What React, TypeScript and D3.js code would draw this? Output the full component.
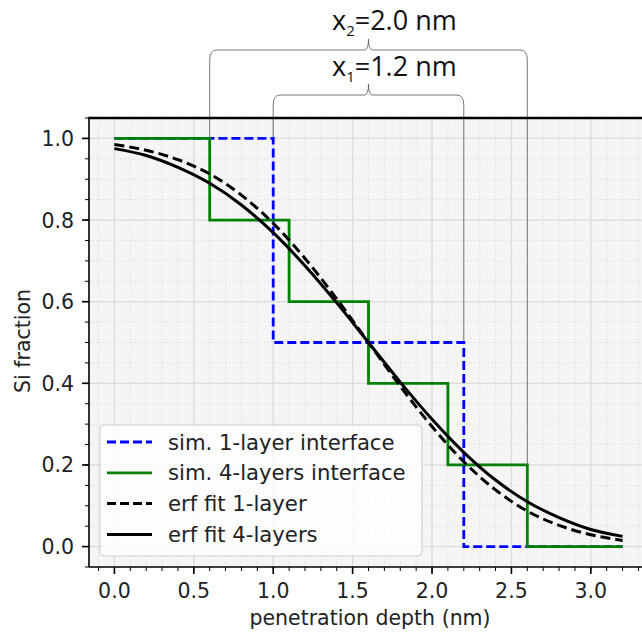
import * as d3 from 'd3';

// step profiles (x, Si fraction)
const oneLayerX = [0.0, 1.0, 1.0, 2.2, 2.2, 3.2];
const oneLayerY = [1.0, 1.0, 0.5, 0.5, 0.0, 0.0];
const fourLayerX = [0.0, 0.6, 0.6, 1.1, 1.1, 1.6, 1.6, 2.1, 2.1, 2.6, 2.6, 3.2];
const fourLayerY = [1.0, 1.0, 0.8, 0.8, 0.6, 0.6, 0.4, 0.4, 0.2, 0.2, 0.0, 0.0];

// erf fits
const fitX = [0.0, 0.2, 0.4, 0.6, 0.8, 1.0, 1.2, 1.4, 1.6, 1.8, 2.0, 2.2, 2.4, 2.6, 2.8, 3.0, 3.2];
const fit1Y = [0.985, 0.971, 0.948, 0.913, 0.861, 0.792, 0.706, 0.607, 0.5, 0.393, 0.294, 0.208, 0.139, 0.087, 0.052, 0.029, 0.015];
const fit4Y = [0.975, 0.958, 0.929, 0.890, 0.837, 0.769, 0.688, 0.597, 0.5, 0.403, 0.312, 0.231, 0.163, 0.110, 0.071, 0.042, 0.025];

const xTicks = [0.0, 0.5, 1.0, 1.5, 2.0, 2.5, 3.0];
const yTicks = [0.0, 0.2, 0.4, 0.6, 0.8, 1.0];

const legendLabels = ['sim. 1-layer interface', 'sim. 4-layers interface', 'erf fit 1-layer', 'erf fit 4-layers'];

// brace annotations
const brackets = [
  { x0: 0.6, x1: 2.6, sub: '2', txt: '=2.0 nm', yb: 50, ty: 30, end0: 1.0, end1: 0.2 },
  { x0: 1.0, x1: 2.2, sub: '1', txt: '=1.2 nm', yb: 95, ty: 76, end0: 1.0, end1: 0.5 },
];

const W = 642, H = 632;
const left = 89, right = 648, top = 118, bottom = 567;

const App = () => {
  const x = d3.scaleLinear().domain([-0.16, 3.36]).range([left, right]);
  const y = d3.scaleLinear().domain([-0.05, 1.05]).range([bottom, top]);

  const xMinor = d3.range(-1, 34).map((i) => i / 10).filter((v) => v >= -0.16 && v <= 3.36);
  const yMinor = d3.range(-1, 22).map((i) => i * 0.05).filter((v) => v >= -0.05 && v <= 1.05);

  const pts = (xs: number[], ys: number[]) => xs.map((v, i) => [v, ys[i]] as [number, number]);
  const stepLine = d3.line<[number, number]>().x((d) => x(d[0])).y((d) => y(d[1]));
  const smooth = d3.line<[number, number]>().x((d) => x(d[0])).y((d) => y(d[1])).curve(d3.curveMonotoneX);

  const font = 'DejaVu Sans, sans-serif';

  const bracePath = (xa: number, xb: number, yb: number) => {
    const xm = (xa + xb) / 2;
    const r = 7;
    return `M${xa},${yb + 10} Q${xa},${yb} ${xa + r},${yb} L${xm - 4},${yb} Q${xm},${yb} ${xm},${yb - 11} Q${xm},${yb} ${xm + 4},${yb} L${xb - r},${yb} Q${xb},${yb} ${xb},${yb + 10}`;
  };

  const legendRows = [
    { color: '#0000ff', dash: '9,4' },
    { color: '#008000', dash: '' },
    { color: '#000', dash: '9,4' },
    { color: '#000', dash: '' },
  ];

  return (
    <svg width={W} height={H} style={{ position: 'absolute', left: 0, top: 0, background: '#fff' }}>
      <defs>
        <clipPath id="plotclip">
          <rect x={left} y={top} width={right - left} height={bottom - top} />
        </clipPath>
      </defs>
      <rect x={left} y={top} width={right - left} height={bottom - top} fill="#f5f5f5" />
      {/* minor grid */}
      <g stroke="#dedede" strokeWidth={1} strokeDasharray="1.5,2">
        {xMinor.map((v) => <line key={'xm' + v} x1={x(v)} x2={x(v)} y1={top} y2={bottom} />)}
        {yMinor.map((v) => <line key={'ym' + v} x1={left} x2={right} y1={y(v)} y2={y(v)} />)}
      </g>
      {/* major grid */}
      <g stroke="#dcdcdc" strokeWidth={1.3}>
        {xTicks.map((v) => <line key={'xg' + v} x1={x(v)} x2={x(v)} y1={top} y2={bottom} />)}
        {yTicks.map((v) => <line key={'yg' + v} x1={left} x2={right} y1={y(v)} y2={y(v)} />)}
      </g>

      {/* bracket guide lines */}
      <g stroke="#555" strokeWidth={0.8} fill="none">
        {brackets.map((b) => (
          <g key={'bl' + b.sub}>
            <line x1={x(b.x0)} x2={x(b.x0)} y1={b.yb + 10} y2={y(b.end0)} />
            <line x1={x(b.x1)} x2={x(b.x1)} y1={b.yb + 10} y2={y(b.end1)} />
            <path d={bracePath(x(b.x0), x(b.x1), b.yb)} />
          </g>
        ))}
      </g>

      <g clipPath="url(#plotclip)" fill="none">
        <path d={stepLine(pts(oneLayerX, oneLayerY)) || ''} stroke="#0000ff" strokeWidth={2.8} strokeDasharray="9,4" />
        <path d={stepLine(pts(fourLayerX, fourLayerY)) || ''} stroke="#008000" strokeWidth={2.8} />
        <path d={smooth(pts(fitX, fit1Y)) || ''} stroke="#000" strokeWidth={3} strokeDasharray="10,5" />
        <path d={smooth(pts(fitX, fit4Y)) || ''} stroke="#000" strokeWidth={3} />
      </g>

      {/* spines */}
      <line x1={left} x2={left} y1={top} y2={bottom} stroke="#000" strokeWidth={1.6} />
      <line x1={left} x2={W} y1={bottom} y2={bottom} stroke="#000" strokeWidth={1.6} />
      <line x1={left - 0.8} x2={W} y1={top} y2={top} stroke="#000" strokeWidth={2.6} />

      {/* ticks */}
      <g stroke="#000">
        {xTicks.map((v) => <line key={'xt' + v} x1={x(v)} x2={x(v)} y1={bottom} y2={bottom + 7} strokeWidth={1.6} />)}
        {xMinor.map((v) => <line key={'xmt' + v} x1={x(v)} x2={x(v)} y1={bottom} y2={bottom + 4} strokeWidth={1} />)}
        {yTicks.map((v) => <line key={'yt' + v} x1={left} x2={left - 7} y1={y(v)} y2={y(v)} strokeWidth={1.6} />)}
        {yMinor.map((v) => <line key={'ymt' + v} x1={left} x2={left - 4} y1={y(v)} y2={y(v)} strokeWidth={1} />)}
      </g>
      <g fontFamily={font} fontSize={20.5} fill="#222">
        {xTicks.map((v) => (
          <text key={'xl' + v} x={x(v)} y={598} textAnchor="middle">{d3.format('.1f')(v)}</text>
        ))}
        {yTicks.map((v) => (
          <text key={'yl' + v} x={left - 15} y={y(v) + 7.5} textAnchor="end">{d3.format('.1f')(v)}</text>
        ))}
        <text x={370} y={625} textAnchor="middle">penetration depth (nm)</text>
        <text transform={`translate(30,341) rotate(-90)`} textAnchor="middle">Si fraction</text>
      </g>

      {/* legend */}
      <g>
        <rect x={100} y={425} width={322} height={131} rx={4} fill="#fff" fillOpacity={0.8} stroke="#ccc" strokeWidth={1} />
        {legendLabels.map((lab, i) => {
          const ly = 442 + i * 30.8;
          const r = legendRows[i];
          return (
            <g key={lab}>
              <line x1={107} x2={152} y1={ly} y2={ly} stroke={r.color} strokeWidth={i > 1 ? 3 : 2.8} strokeDasharray={r.dash} />
              <text x={168} y={ly + 7.5} fontFamily={font} fontSize={21.2} fill="#222">{lab}</text>
            </g>
          );
        })}
      </g>

      {/* bracket labels */}
      <g fontFamily="Open Sans, sans-serif" fontSize={27} fill="#111">
        {brackets.map((b) => (
          <text key={'bt' + b.sub} x={332} y={b.ty}>
            x<tspan fontSize={15} dy={6}>{b.sub}</tspan><tspan dy={-6}>{b.txt}</tspan>
          </text>
        ))}
      </g>
    </svg>
  );
};

export default App;
